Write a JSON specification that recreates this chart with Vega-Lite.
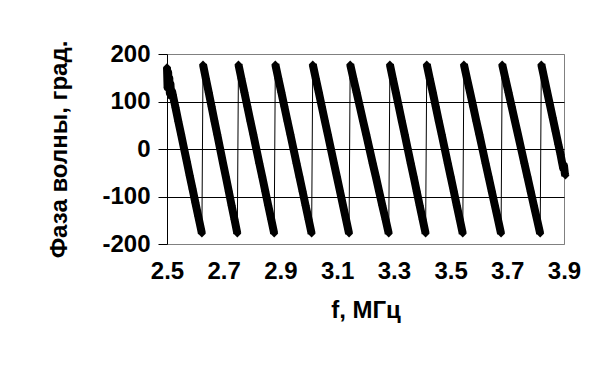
{
  "$schema": "https://vega.github.io/schema/vega-lite/v6.json",
  "width": 397,
  "height": 190,
  "autosize": {"type": "none"},
  "padding": {"left": 167, "top": 54, "right": 33, "bottom": 125},
  "background": "white",
  "config": {
    "view": {"stroke": "#808080", "strokeWidth": 1},
    "font": "Liberation Sans",
    "axis": {
      "labelFont": "Liberation Sans",
      "titleFont": "Liberation Sans",
      "labelFontSize": 24,
      "titleFontSize": 24,
      "labelFontWeight": "bold",
      "titleFontWeight": "bold",
      "labelColor": "black",
      "titleColor": "black",
      "domainColor": "black",
      "tickColor": "black"
    }
  },
  "data": {
    "values": [
      {"f": 2.500, "p": 172, "c": 0}, {"f": 2.502, "p": 130, "c": 0}, {"f": 2.504, "p": 161, "c": 0}, {"f": 2.506, "p": 138, "c": 0},
      {"f": 2.508, "p": 149, "c": 0}, {"f": 2.510, "p": 118, "c": 0}, {"f": 2.512, "p": 137, "c": 0}, {"f": 2.515, "p": 112, "c": 0},
      {"f": 2.518, "p": 121, "c": 0}, {"f": 2.520, "p": 115, "c": 0}, {"f": 2.525, "p": 101, "c": 0}, {"f": 2.530, "p": 87, "c": 0},
      {"f": 2.540, "p": 58, "c": 0}, {"f": 2.550, "p": 30, "c": 0}, {"f": 2.560, "p": 1, "c": 0}, {"f": 2.570, "p": -27, "c": 0},
      {"f": 2.580, "p": -56, "c": 0}, {"f": 2.590, "p": -84, "c": 0}, {"f": 2.600, "p": -113, "c": 0}, {"f": 2.610, "p": -141, "c": 0},
      {"f": 2.620, "p": -169, "c": 0}, {"f": 2.623, "p": -178, "c": 0},

      {"f": 2.627, "p": 178, "c": 1}, {"f": 2.6371, "p": 148, "c": 1}, {"f": 2.6472, "p": 119, "c": 1}, {"f": 2.6573, "p": 89, "c": 1},
      {"f": 2.6673, "p": 59, "c": 1}, {"f": 2.6774, "p": 30, "c": 1}, {"f": 2.6875, "p": 0, "c": 1}, {"f": 2.6976, "p": -30, "c": 1},
      {"f": 2.7077, "p": -59, "c": 1}, {"f": 2.7178, "p": -89, "c": 1}, {"f": 2.7278, "p": -119, "c": 1}, {"f": 2.7379, "p": -148, "c": 1},
      {"f": 2.748, "p": -178, "c": 1},

      {"f": 2.752, "p": 178, "c": 2}, {"f": 2.7625, "p": 148, "c": 2}, {"f": 2.773, "p": 119, "c": 2}, {"f": 2.7835, "p": 89, "c": 2},
      {"f": 2.794, "p": 59, "c": 2}, {"f": 2.8045, "p": 30, "c": 2}, {"f": 2.815, "p": 0, "c": 2}, {"f": 2.8255, "p": -30, "c": 2},
      {"f": 2.836, "p": -59, "c": 2}, {"f": 2.8465, "p": -89, "c": 2}, {"f": 2.857, "p": -119, "c": 2}, {"f": 2.8675, "p": -148, "c": 2},
      {"f": 2.878, "p": -178, "c": 2},

      {"f": 2.882, "p": 178, "c": 3}, {"f": 2.8927, "p": 148, "c": 3}, {"f": 2.9033, "p": 119, "c": 3}, {"f": 2.914, "p": 89, "c": 3},
      {"f": 2.9247, "p": 59, "c": 3}, {"f": 2.9353, "p": 30, "c": 3}, {"f": 2.946, "p": 0, "c": 3}, {"f": 2.9567, "p": -30, "c": 3},
      {"f": 2.9673, "p": -59, "c": 3}, {"f": 2.978, "p": -89, "c": 3}, {"f": 2.9887, "p": -119, "c": 3}, {"f": 2.9993, "p": -148, "c": 3},
      {"f": 3.010, "p": -178, "c": 3},

      {"f": 3.014, "p": 178, "c": 4}, {"f": 3.0247, "p": 148, "c": 4}, {"f": 3.0353, "p": 119, "c": 4}, {"f": 3.046, "p": 89, "c": 4},
      {"f": 3.0567, "p": 59, "c": 4}, {"f": 3.0673, "p": 30, "c": 4}, {"f": 3.078, "p": 0, "c": 4}, {"f": 3.0887, "p": -30, "c": 4},
      {"f": 3.0993, "p": -59, "c": 4}, {"f": 3.110, "p": -89, "c": 4}, {"f": 3.1207, "p": -119, "c": 4}, {"f": 3.1313, "p": -148, "c": 4},
      {"f": 3.142, "p": -178, "c": 4},

      {"f": 3.146, "p": 178, "c": 5}, {"f": 3.1573, "p": 148, "c": 5}, {"f": 3.1687, "p": 119, "c": 5}, {"f": 3.180, "p": 89, "c": 5},
      {"f": 3.1913, "p": 59, "c": 5}, {"f": 3.2027, "p": 30, "c": 5}, {"f": 3.214, "p": 0, "c": 5}, {"f": 3.2253, "p": -30, "c": 5},
      {"f": 3.2367, "p": -59, "c": 5}, {"f": 3.248, "p": -89, "c": 5}, {"f": 3.2593, "p": -119, "c": 5}, {"f": 3.2707, "p": -148, "c": 5},
      {"f": 3.282, "p": -178, "c": 5},

      {"f": 3.286, "p": 178, "c": 6}, {"f": 3.2965, "p": 148, "c": 6}, {"f": 3.307, "p": 119, "c": 6}, {"f": 3.3175, "p": 89, "c": 6},
      {"f": 3.328, "p": 59, "c": 6}, {"f": 3.3385, "p": 30, "c": 6}, {"f": 3.349, "p": 0, "c": 6}, {"f": 3.3595, "p": -30, "c": 6},
      {"f": 3.370, "p": -59, "c": 6}, {"f": 3.3805, "p": -89, "c": 6}, {"f": 3.391, "p": -119, "c": 6}, {"f": 3.4015, "p": -148, "c": 6},
      {"f": 3.412, "p": -178, "c": 6},

      {"f": 3.416, "p": 178, "c": 7}, {"f": 3.4266, "p": 148, "c": 7}, {"f": 3.4372, "p": 119, "c": 7}, {"f": 3.4478, "p": 89, "c": 7},
      {"f": 3.4583, "p": 59, "c": 7}, {"f": 3.4689, "p": 30, "c": 7}, {"f": 3.4795, "p": 0, "c": 7}, {"f": 3.4901, "p": -30, "c": 7},
      {"f": 3.5007, "p": -59, "c": 7}, {"f": 3.5113, "p": -89, "c": 7}, {"f": 3.5218, "p": -119, "c": 7}, {"f": 3.5324, "p": -148, "c": 7},
      {"f": 3.543, "p": -178, "c": 7},

      {"f": 3.547, "p": 178, "c": 8}, {"f": 3.5579, "p": 148, "c": 8}, {"f": 3.5688, "p": 119, "c": 8}, {"f": 3.5798, "p": 89, "c": 8},
      {"f": 3.5907, "p": 59, "c": 8}, {"f": 3.6016, "p": 30, "c": 8}, {"f": 3.6125, "p": 0, "c": 8}, {"f": 3.6234, "p": -30, "c": 8},
      {"f": 3.6343, "p": -59, "c": 8}, {"f": 3.6453, "p": -89, "c": 8}, {"f": 3.6562, "p": -119, "c": 8}, {"f": 3.6671, "p": -148, "c": 8},
      {"f": 3.678, "p": -178, "c": 8},

      {"f": 3.682, "p": 178, "c": 9}, {"f": 3.6932, "p": 148, "c": 9}, {"f": 3.7043, "p": 119, "c": 9}, {"f": 3.7155, "p": 89, "c": 9},
      {"f": 3.7267, "p": 59, "c": 9}, {"f": 3.7378, "p": 30, "c": 9}, {"f": 3.749, "p": 0, "c": 9}, {"f": 3.7602, "p": -30, "c": 9},
      {"f": 3.7713, "p": -59, "c": 9}, {"f": 3.7825, "p": -89, "c": 9}, {"f": 3.7937, "p": -119, "c": 9}, {"f": 3.8048, "p": -148, "c": 9},
      {"f": 3.816, "p": -178, "c": 9},

      {"f": 3.820, "p": 178, "c": 10}, {"f": 3.830, "p": 150, "c": 10}, {"f": 3.840, "p": 122, "c": 10}, {"f": 3.850, "p": 94, "c": 10},
      {"f": 3.860, "p": 66, "c": 10}, {"f": 3.870, "p": 38, "c": 10}, {"f": 3.880, "p": 10, "c": 10}, {"f": 3.888, "p": -12, "c": 10},
      {"f": 3.893, "p": -28, "c": 10}, {"f": 3.897, "p": -40, "c": 10}, {"f": 3.900, "p": -35, "c": 10}, {"f": 3.903, "p": -52, "c": 10},
      {"f": 3.905, "p": -56, "c": 10}
    ]
  },
  "encoding": {
    "x": {
      "field": "f",
      "type": "quantitative",
      "scale": {"domain": [2.5, 3.9], "nice": false, "zero": false},
      "axis": {
        "values": [2.5, 2.7, 2.9, 3.1, 3.3, 3.5, 3.7, 3.9],
        "format": ".1f",
        "title": "f, МГц",
        "grid": false,
        "domain": false,
        "ticks": false,
        "labelPadding": 15,
        "labelFlush": false,
        "labelOverlap": false,
        "titlePadding": 15
      }
    },
    "y": {
      "field": "p",
      "type": "quantitative",
      "scale": {"domain": [-200, 200], "nice": false},
      "axis": {
        "values": [-200, -100, 0, 100, 200],
        "labelExpr": "'' + datum.value",
        "title": "Фаза волны, град.",
        "grid": true,
        "gridColor": {"condition": {"test": "abs(datum.value) == 200", "value": "#808080"}, "value": "black"},
        "gridWidth": 1,
        "gridOpacity": 1,
        "tickSize": 9,
        "labelPadding": 8,
        "titlePadding": 30
      }
    }
  },
  "layer": [
    {"mark": {"type": "line", "color": "black", "strokeWidth": 1}},
    {
      "mark": {"type": "line", "color": "black", "strokeWidth": 8, "strokeJoin": "round"},
      "encoding": {"detail": {"field": "c", "type": "nominal"}}
    },
    {"mark": {"type": "point", "shape": "diamond", "filled": true, "color": "black", "size": 64, "opacity": 1}}
  ]
}
